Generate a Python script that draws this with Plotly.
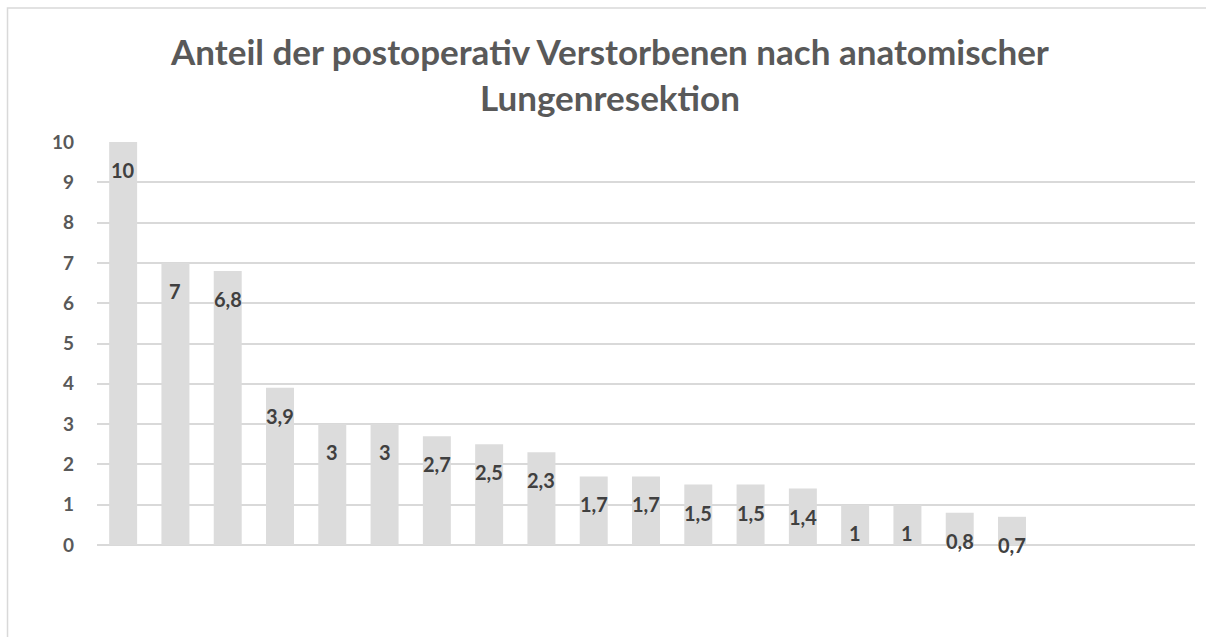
import plotly.graph_objects as go

# Anteil der postoperativ Verstorbenen (%) je Einrichtung, absteigend sortiert
values = [10, 7, 6.8, 3.9, 3, 3, 2.7, 2.5, 2.3, 1.7, 1.7, 1.5, 1.5, 1.4, 1, 1, 0.8, 0.7]
n_slots = 21  # Kategorienachse mit drei freien Plätzen am Ende
positions = list(range(len(values)))
y_ticks = list(range(0, 11))

title_text = "Anteil der postoperativ Verstorbenen nach anatomischer<br>Lungenresektion"

FONT = "Lato"
BAR_COLOR = "#dcdcdc"
GRID_COLOR = "#d9d9d9"
TEXT_GRAY = "#595959"
LABEL_GRAY = "#404040"


def de_format(v):
    return f"{v:g}".replace(".", ",")


fig = go.Figure()
fig.add_trace(
    go.Bar(
        x=positions,
        y=values,
        marker=dict(color=BAR_COLOR, line=dict(width=0)),
        hoverinfo="skip",
    )
)

# Datenbeschriftungen innen am Balkenende
for xi, v in zip(positions, values):
    fig.add_annotation(
        x=xi,
        y=v,
        text=de_format(v),
        showarrow=False,
        yanchor="middle",
        xanchor="center",
        yshift=-28,
        font=dict(family=FONT, size=20, color=LABEL_GRAY, weight="bold"),
    )

# Rahmen des Diagrammbereichs
fig.add_shape(
    type="rect",
    xref="paper",
    yref="paper",
    x0=-0.0815,
    x1=1.05,
    y0=-0.3,
    y1=1.3325,
    line=dict(color=GRID_COLOR, width=1.5),
    fillcolor="rgba(0,0,0,0)",
    layer="below",
)

fig.update_layout(
    width=1206,
    height=637,
    margin=dict(l=97, r=11, t=142, b=92),
    paper_bgcolor="white",
    plot_bgcolor="white",
    bargap=0.465,
    showlegend=False,
    title=dict(
        text=title_text,
        x=0.5058,
        xanchor="center",
        y=1 - 65 / 637,
        yanchor="middle",
        font=dict(family=FONT, size=35, color=TEXT_GRAY, weight="bold"),
    ),
    xaxis=dict(
        range=[-0.5, n_slots - 0.5],
        showticklabels=False,
        showgrid=False,
        zeroline=False,
        showline=False,
        fixedrange=True,
    ),
    yaxis=dict(
        range=[0, 10],
        tickvals=y_ticks,
        showgrid=True,
        gridcolor=GRID_COLOR,
        gridwidth=1.5,
        zeroline=True,
        zerolinecolor=GRID_COLOR,
        zerolinewidth=1.5,
        showline=False,
        ticks="",
        ticklabelstandoff=22,
        tickfont=dict(family=FONT, size=19, color=TEXT_GRAY, weight="bold"),
        fixedrange=True,
    ),
)

fig.write_html("out.html")
